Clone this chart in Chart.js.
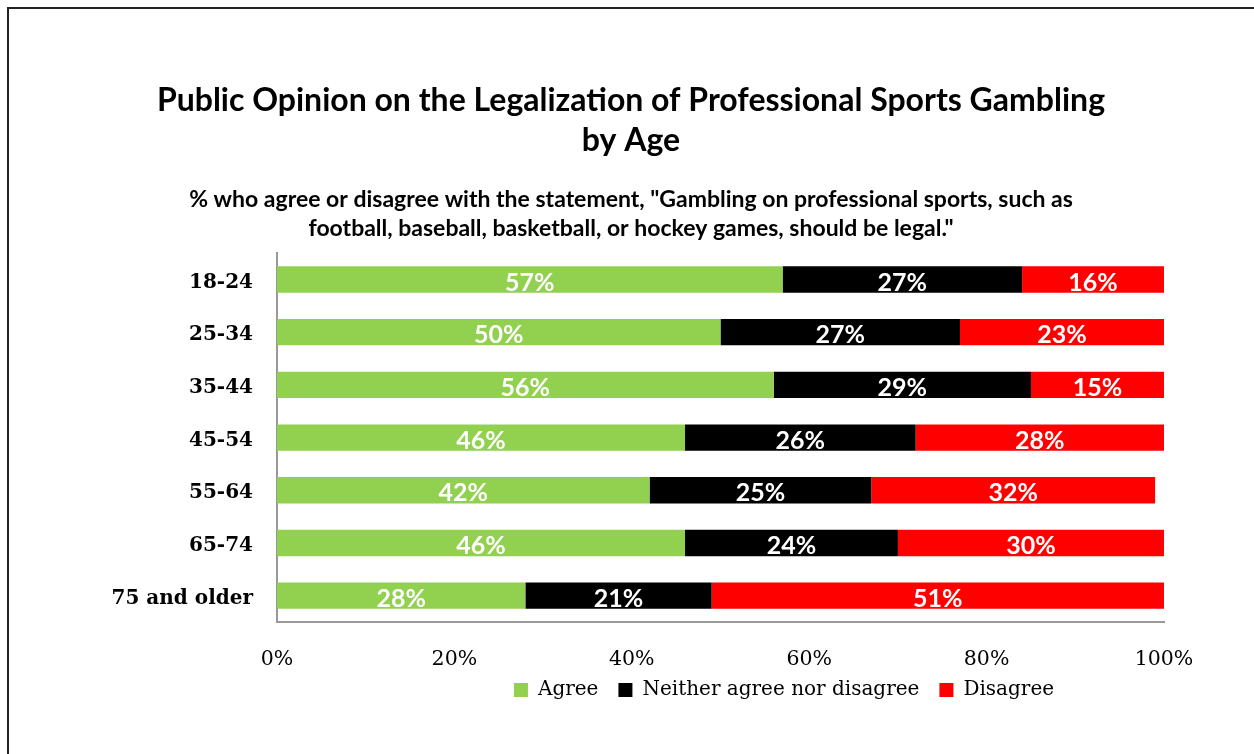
<!DOCTYPE html>
<html>
<head>
<meta charset="utf-8">
<script src="https://cdn.jsdelivr.net/npm/chart.js@4"></script>
<style>
  html, body { margin: 0; padding: 0; background: #fff; }
  #wrap { position: relative; width: 1254px; height: 754px; }
  #frame {
    position: absolute; left: 7px; top: 7px; right: 0; bottom: -10px;
    border-left: 2px solid #222; border-top: 2px solid #222;
    pointer-events: none;
  }
</style>
</head>
<body>
<div id="wrap">
  <canvas id="chart" width="1254" height="754"></canvas>
  <div id="frame"></div>
</div>
<script>
// Données
const ageGroups = ['18-24', '25-34', '35-44', '45-54', '55-64', '65-74', '75 and older'];
const agree    = [57, 50, 56, 46, 42, 46, 28];
const neither  = [27, 27, 29, 26, 25, 24, 21];
const disagree = [16, 23, 15, 28, 32, 30, 51];
const xTicks = [0, 20, 40, 60, 80, 100];

const serif = "'DejaVu Serif', 'Liberation Serif', serif";
const sans = "Lato, 'Open Sans', sans-serif";

// Étiquettes de valeur au centre de chaque segment
const barLabels = {
  id: 'barLabels',
  afterDatasetsDraw(chart) {
    const ctx = chart.ctx;
    ctx.save();
    ctx.fillStyle = '#ffffff';
    ctx.font = "bold 25px " + sans;
    ctx.textAlign = 'center';
    ctx.textBaseline = 'middle';
    chart.data.datasets.forEach((ds, i) => {
      const meta = chart.getDatasetMeta(i);
      meta.data.forEach((bar, j) => {
        const cx = (bar.x + bar.base) / 2;
        ctx.fillText(ds.data[j] + '%', cx, bar.y + 3);
      });
    });
    ctx.restore();
  }
};

// Décale la légende pour la placer comme dans l'original
const legendShift = {
  id: 'legendShift',
  afterLayout(chart) {
    const lg = chart.legend;
    if (!lg) return;
    const center = 784;
    const w = lg.width;
    lg.left = center - w / 2;
    lg.right = lg.left + w;
    lg.top -= 12;
    lg.bottom -= 12;
  }
};

new Chart(document.getElementById('chart'), {
  type: 'bar',
  data: {
    labels: ageGroups,
    datasets: [
      { label: 'Agree', data: agree, backgroundColor: '#92D050' },
      { label: 'Neither agree nor disagree', data: neither, backgroundColor: '#000000' },
      { label: 'Disagree', data: disagree, backgroundColor: '#FF0000' }
    ]
  },
  options: {
    indexAxis: 'y',
    responsive: false,
    animation: false,
    barPercentage: 0.5,
    categoryPercentage: 1,
    layout: { padding: { left: 98, right: 90, top: 81, bottom: 32 } },
    scales: {
      x: {
        stacked: true,
        min: 0,
        max: 100,
        afterBuildTicks(scale) { scale.ticks = xTicks.map(v => ({ value: v })); },
        afterFit(scale) { scale.height = 50; },
        grid: { display: false, drawTicks: false },
        border: { display: true, color: '#999', width: 2 },
        ticks: {
          padding: 25,
          color: '#000',
          font: { family: serif, size: 20.5 },
          callback: v => v + '%'
        }
      },
      y: {
        stacked: true,
        afterFit(scale) { scale.width = 179; },
        grid: { display: false, drawTicks: false },
        border: { display: true, color: '#999', width: 2 },
        ticks: {
          padding: 24,
          labelOffset: 3,
          color: '#000',
          font: { family: serif, size: 20, weight: 'bold' }
        }
      }
    },
    plugins: {
      title: {
        display: true,
        text: ['Public Opinion on the Legalization of Professional Sports Gambling', 'by Age'],
        color: '#000',
        font: { family: sans, size: 32, weight: 'bold', lineHeight: 1.25 },
        padding: { top: 0, bottom: 25 }
      },
      subtitle: {
        display: true,
        text: ['% who agree or disagree with the statement, "Gambling on professional sports, such as',
               'football, baseball, basketball, or hockey games, should be legal."'],
        color: '#000',
        font: { family: sans, size: 23, weight: 'bold', lineHeight: 1.22 },
        padding: { top: 0, bottom: 11 }
      },
      legend: {
        position: 'bottom',
        labels: {
          color: '#000',
          boxWidth: 14,
          boxHeight: 14,
          padding: 20,
          font: { family: serif, size: 20 }
        }
      },
      tooltip: { enabled: false }
    }
  },
  plugins: [barLabels, legendShift]
});
</script>
</body>
</html>
